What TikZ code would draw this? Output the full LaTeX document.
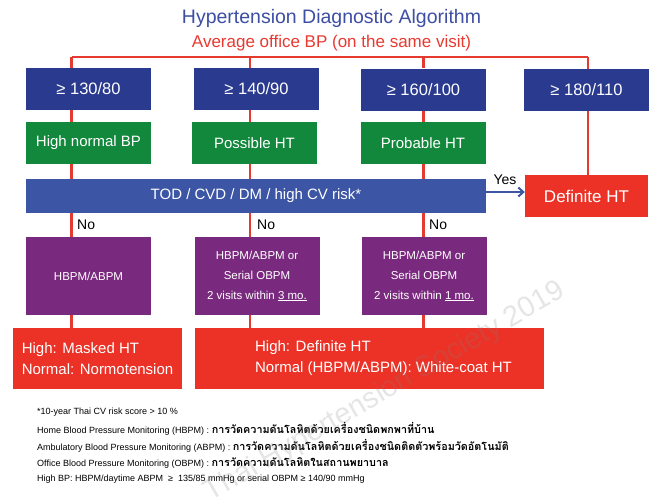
\documentclass[tikz,border=0pt]{standalone}
\usepackage{fontspec}
\setmainfont{Liberation Sans}
\newfontfamily\thaifont[Script=Thai,Scale=1.2]{Loma}
\usetikzlibrary{arrows.meta}
\definecolor{navy}{HTML}{2A3A8F}
\definecolor{barblue}{HTML}{3C55A5}
\definecolor{dgreen}{HTML}{12883C}
\definecolor{purp}{HTML}{7A2A7E}
\definecolor{hred}{HTML}{EC3226}
\definecolor{titleblue}{HTML}{3D4EA5}
\definecolor{subred}{HTML}{E83A30}
\definecolor{linered}{HTML}{E43A2F}
\begin{document}
\begin{tikzpicture}[x=1pt,y=-1pt,
  box/.style={rectangle, inner sep=0pt, text=white, minimum width=125pt, minimum height=42pt},
  navybox/.style={box, fill=navy, font=\fontsize{16.5}{20}\selectfont},
  greenbox/.style={box, fill=dgreen, font=\fontsize{15}{18}\selectfont},
  purpbox/.style={box, fill=purp, minimum height=78pt, align=center, font=\fontsize{11.5}{20}\selectfont},
  redbox/.style={box, fill=hred, minimum height=61pt, align=left, font=\fontsize{15}{21}\selectfont},
  redline/.style={draw=linered, line width=2.4pt},
  bluearrow/.style={draw=barblue, line width=2pt, -{Straight Barb[length=5pt,width=9pt]}},
  lbl/.style={inner sep=0pt, font=\fontsize{14}{16}\selectfont},
  foot/.style={inner sep=0pt, anchor=west, font=\fontsize{9}{11}\selectfont}]
\useasboundingbox[fill=white] (0,0) rectangle (663,496);

% titles
\node[inner sep=0pt, text=titleblue, font=\fontsize{19.5}{22}\selectfont] (title) at (331.5,18) {Hypertension Diagnostic Algorithm};
\node[inner sep=0pt, text=subred, font=\fontsize{17}{20}\selectfont] (sub) at (331.5,43) {Average office BP (on the same visit)};

% row 1
\node[navybox] (b1) at (88.5,89) {≥ 130/80};
\node[navybox] (b2) at (256.5,89) {≥ 140/90};
\node[navybox] (b3) at (423.5,89.5) {≥ 160/100};
\node[navybox] (b4) at (586.5,90) {≥ 180/110};

% row 2
\node[greenbox] (g1) at (88.5,143) {High normal BP};
\node[greenbox] (g2) at (254.5,143) {Possible HT};
\node[greenbox] (g3) at (423,143) {Probable HT};

% bar and definite
\node[box, fill=barblue, minimum width=460pt, minimum height=34pt, font=\fontsize{15}{18}\selectfont] (bar) at (256,196) {TOD / CVD / DM / high CV risk*};
\node[box, fill=hred, minimum width=123pt, font=\fontsize{17}{20}\selectfont] (def) at (586.5,196) {Definite HT};

% row 3
\node[purpbox] (p1) at (88.5,276) {HBPM/ABPM};
\node[purpbox] (p2) at (257,276) {HBPM/ABPM or\\Serial OBPM\\2 visits within \underline{3 mo.}};
\node[purpbox] (p3) at (424,276) {HBPM/ABPM or\\Serial OBPM\\2 visits within \underline{1 mo.}};

% row 4
\node[redbox, minimum width=169pt] (r1) at (97.5,358.5) {High: Masked HT\\Normal: Normotension};
\node[redbox, minimum width=349pt] (r2) at (369.5,358.5) {};
\node[inner sep=0pt, text=white, align=left, font=\fontsize{15}{21}\selectfont] (r2t) at (383.5,358.5) {High: Definite HT\\Normal (HBPM/ABPM): White-coat HT};

% connectors
\coordinate (t1) at (71.5,57);
\coordinate (t2) at (250,57);
\coordinate (t3) at (423.5,57);
\coordinate (t4) at (588,57);
\draw[redline] (t1) -- (t4);
\foreach \t/\b/\g/\p/\r in {t1/b1/g1/p1/r1, t2/b2/g2/p2/r2, t3/b3/g3/p3/r2}{
  \draw[redline] (\t) -- (\t |- \b.north);
  \draw[redline] (\t |- \b.south) -- (\t |- \g.north);
  \draw[redline] (\t |- \g.south) -- (\t |- bar.north);
  \draw[redline] (\t |- bar.south) -- (\t |- \p.north);
  \draw[redline] (\t |- \p.south) -- (\t |- \r.north);
}
\draw[redline] (t4) -- (t4 |- b4.north);
\draw[redline] (t4 |- b4.south) -- (t4 |- def.north);
\draw[bluearrow] ([yshift=4pt]bar.east) -- ([yshift=4pt]def.west);

\node[lbl] (yes) at (505,180) {Yes};
\node[lbl, anchor=west] (no1) at (77,225) {No};
\node[lbl, anchor=west] (no2) at (257,225) {No};
\node[lbl, anchor=west] (no3) at (429,225) {No};

% footnotes
\node[foot] (f1) at (37,412) {*10-year Thai CV risk score > 10 \%};
\node[foot] (f2) at (37,429) {Home Blood Pressure Monitoring (HBPM) : {\thaifont\bfseries การวัดความดันโลหิตด้วยเครื่องชนิดพกพาที่บ้าน}};
\node[foot] (f3) at (37,446) {Ambulatory Blood Pressure Monitoring (ABPM) : {\thaifont\bfseries การวัดความดันโลหิตด้วยเครื่องชนิดติดตัวพร้อมวัดอัตโนมัติ}};
\node[foot] (f4) at (37,462.5) {Office Blood Pressure Monitoring (OBPM) : {\thaifont\bfseries การวัดความดันโลหิตในสถานพยาบาล}};
\node[foot] (f5) at (37,479) {High BP: HBPM/daytime ABPM \ ≥ \ 135/85 mmHg or serial OBPM ≥ 140/90 mmHg};

% watermark
\node[inner sep=0pt, rotate=30, text=gray, opacity=0.2, font=\fontsize{29}{32}\selectfont] (wm) at (385,392) {Thai Hypertension Society 2019};
\end{tikzpicture}
\end{document}
